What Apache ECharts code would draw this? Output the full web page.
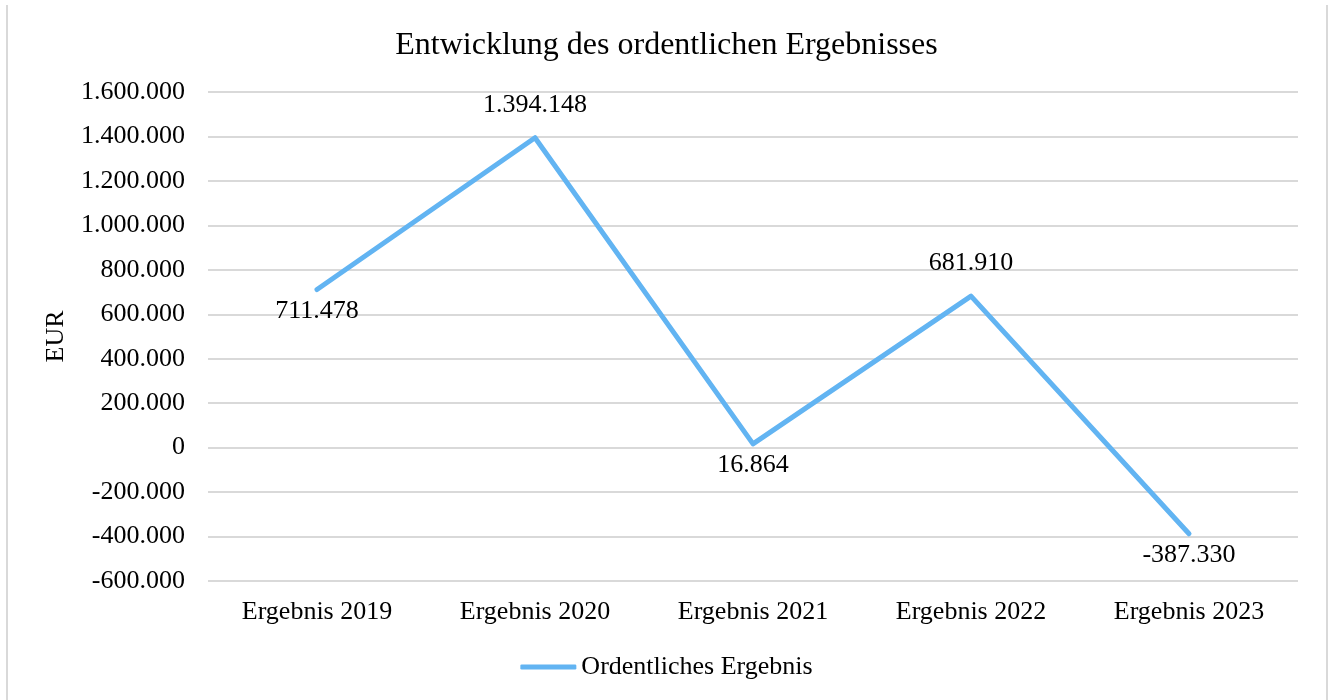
<!DOCTYPE html>
<html>
<head>
<meta charset="utf-8">
<script src="https://cdn.jsdelivr.net/npm/echarts@6/dist/echarts.min.js"></script>
<style>
  html, body { margin: 0; padding: 0; background: #fff; overflow: hidden; }
  #frame { position: absolute; left: 6px; top: 5px; width: 1322px; height: 720px; border: 2px solid #d9d9d9; border-top: none; box-sizing: border-box; }
  #chart { position: absolute; left: 0; top: 0; width: 1333px; height: 700px; }
</style>
</head>
<body>
<div id="frame"></div>
<div id="chart"></div>
<script>
const categories = ['Ergebnis 2019', 'Ergebnis 2020', 'Ergebnis 2021', 'Ergebnis 2022', 'Ergebnis 2023'];
const values = [711478, 1394148, 16864, 681910, -387330];
const labelAbove = [false, true, false, true, false];

const font = '"Liberation Serif", "Times New Roman", serif';
const fmt = v => {
  const s = Math.abs(v).toString().replace(/\B(?=(\d{3})+(?!\d))/g, '.');
  return (v < 0 ? '-' : '') + s;
};

const chart = echarts.init(document.getElementById('chart'));

chart.setOption({
  backgroundColor: 'transparent',
  textStyle: { fontFamily: font },
  title: {
    text: 'Entwicklung des ordentlichen Ergebnisses',
    left: 'center',
    top: 25,
    textStyle: { fontFamily: font, fontSize: 32, fontWeight: 'normal', color: '#000' }
  },
  legend: {
    bottom: 15,
    left: 'center',
    itemWidth: 56,
    itemHeight: 5,
    itemGap: 4,
    icon: 'roundRect',
    textStyle: { fontFamily: font, fontSize: 26, color: '#000' },
    data: ['Ordentliches Ergebnis']
  },
  grid: {
    left: 208,
    right: 35,
    top: 92,
    bottom: 119
  },
  xAxis: {
    type: 'category',
    data: categories,
    boundaryGap: true,
    axisLine: { show: false },
    axisTick: { show: false },
    axisLabel: { fontFamily: font, fontSize: 26, color: '#000', margin: 18 }
  },
  yAxis: {
    type: 'value',
    min: -600000,
    max: 1600000,
    interval: 200000,
    name: 'EUR',
    nameLocation: 'middle',
    nameGap: 139,
    nameTextStyle: { fontFamily: font, fontSize: 26, color: '#000' },
    axisLine: { show: false },
    axisTick: { show: false },
    splitLine: { lineStyle: { color: '#d9d9d9', width: 2 } },
    axisLabel: { fontFamily: font, fontSize: 26, color: '#000', margin: 23, formatter: fmt }
  },
  series: [{
    name: 'Ordentliches Ergebnis',
    type: 'line',
    symbol: 'circle',
    symbolSize: 1,
    showSymbol: true,
    color: '#62b4f2',
    itemStyle: { color: '#62b4f2' },
    lineStyle: { width: 5, color: '#62b4f2', cap: 'round', join: 'round' },
    data: values.map((v, i) => ({
      value: v,
      label: {
        show: true,
        position: labelAbove[i] ? 'top' : 'bottom',
        distance: labelAbove[i] ? 19 : 8,
        formatter: p => fmt(p.value),
        fontFamily: font,
        fontSize: 26,
        color: '#000'
      }
    }))
  }]
});
</script>
</body>
</html>
